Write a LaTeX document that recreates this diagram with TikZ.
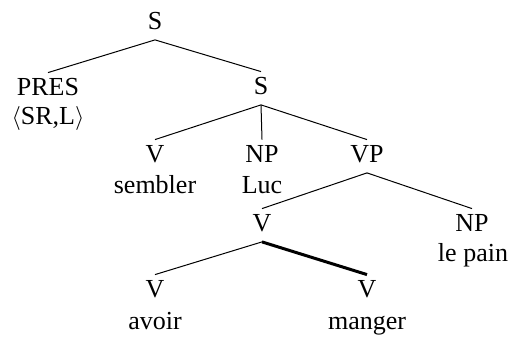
\documentclass[tikz,border=0pt]{standalone}
\usepackage{fontspec}
\setmainfont{Liberation Serif}
\usepackage{amsmath}

\tikzset{
    cat/.style={anchor=base, inner xsep=1pt, inner ysep=1.5pt, text height=10pt, text depth=3.25pt},
    word/.style={anchor=base, inner sep=1pt},
    branch/.style={line width=0.5pt},
    headbranch/.style={line width=1.5pt}
}

\begin{document}
\begin{tikzpicture}[x=0.5pt, y=-0.5pt, font=\fontsize{13}{15.6}\selectfont]
    \useasboundingbox (0,0) rectangle (512,340);
    \node[cat] (s0) at (155,30) {S};
    \node[cat] (pres) at (48,96) {PRES};
    \node[word] (srl) at (48,125) {\(\langle\)SR,L\(\rangle\)};
    \node[cat] (s1) at (261,95) {S};
    \node[cat] (v1) at (155,163) {V};
    \node[word] (sembler) at (155,194) {sembler};
    \node[cat] (np1) at (262,163) {NP};
    \node[word] (luc) at (262,194) {Luc};
    \node[cat] (vp) at (367,163) {VP};
    \node[cat] (v2) at (262,232) {V};
    \node[cat] (np2) at (472,232) {NP};
    \node[word] (pain) at (473,262) {le pain};
    \node[cat] (v3) at (155,298) {V};
    \node[word] (avoir) at (155,330) {avoir};
    \node[cat] (v4) at (367,298) {V};
    \node[word] (manger) at (367,330) {manger};
    \draw[branch] (s0.south) -- (pres.north);
    \draw[branch] (s0.south) -- (s1.north);
    \draw[branch] (s1.south) -- (v1.north);
    \draw[branch] (s1.south) -- (np1.north);
    \draw[branch] (s1.south) -- (vp.north);
    \draw[branch] (vp.south) -- (v2.north);
    \draw[branch] (vp.south) -- (np2.north);
    \draw[branch] (v2.south) -- (v3.north);
    \draw[headbranch] (v2.south) -- (v4.north);
\end{tikzpicture}
\end{document}
